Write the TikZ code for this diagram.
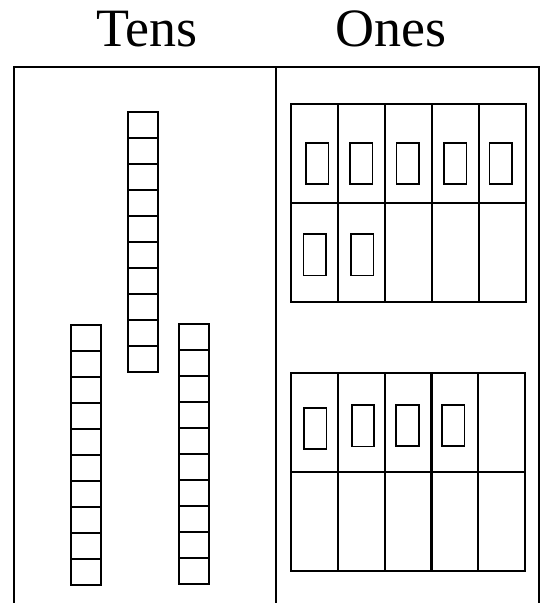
\documentclass[tikz,border=0pt]{standalone}
\usepackage{fontspec}
\setmainfont{Liberation Serif}
\begin{document}
\begin{tikzpicture}[x=1pt, y=-1pt]
      %% Styles for the blocks
      \tikzset
      {
      unit/.style={rectangle, draw, line width=2pt, inner sep=0pt, outer sep=0pt, minimum width=30pt, minimum height=26pt},
      slot/.style = {rectangle, draw, line width=2pt, inner sep=0pt, outer sep=0pt, minimum width=47pt, minimum height=99pt},
      counter/.style = {rectangle, draw, line width=1.8pt, inner sep=0pt, outer sep=0pt, minimum width=22.5pt, minimum height=41.5pt},
      heading/.style = {font=\fontsize{54}{60}\selectfont, inner sep=0pt}
      }
      \useasboundingbox (0,0) rectangle (544,603);
      \clip (0,0) rectangle (544,603);
      %% Headings
      \node[heading, anchor=base] (tens) at (147,46) {Tens};
      \node[heading, anchor=base] (ones) at (391,46) {Ones};
      %% Place value chart
      \coordinate (tl) at (14,67);
      \coordinate (tr) at (539,67);
      \coordinate (tm) at (276,67);
      \draw [line width=2.4pt] (14,620) -- (tl) -- (tr) -- (539,620)
      (tm) -- (276,620);
      %% Middle ten rod
      \node[unit] (m1) at (142.7,125) {};
      \node[unit] (m2) at (142.7,151) {};
      \node[unit] (m3) at (142.7,177) {};
      \node[unit] (m4) at (142.7,203) {};
      \node[unit] (m5) at (142.7,229) {};
      \node[unit] (m6) at (142.7,255) {};
      \node[unit] (m7) at (142.7,281) {};
      \node[unit] (m8) at (142.7,307) {};
      \node[unit] (m9) at (142.7,333) {};
      \node[unit] (m10) at (142.7,359) {};
      %% Left ten rod
      \node[unit] (l1) at (86.3,338) {};
      \node[unit] (l2) at (86.3,364) {};
      \node[unit] (l3) at (86.3,390) {};
      \node[unit] (l4) at (86.3,416) {};
      \node[unit] (l5) at (86.3,442) {};
      \node[unit] (l6) at (86.3,468) {};
      \node[unit] (l7) at (86.3,494) {};
      \node[unit] (l8) at (86.3,520) {};
      \node[unit] (l9) at (86.3,546) {};
      \node[unit] (l10) at (86.3,572) {};
      %% Right ten rod
      \node[unit] (r1) at (193.5,337) {};
      \node[unit] (r2) at (193.5,363) {};
      \node[unit] (r3) at (193.5,389) {};
      \node[unit] (r4) at (193.5,415) {};
      \node[unit] (r5) at (193.5,441) {};
      \node[unit] (r6) at (193.5,467) {};
      \node[unit] (r7) at (193.5,493) {};
      \node[unit] (r8) at (193.5,519) {};
      \node[unit] (r9) at (193.5,545) {};
      \node[unit] (r10) at (193.5,571) {};
      %% Upper ten frame
      \node[slot] (a1) at (314.5,153) {};
      \node[slot] (a2) at (361.5,153) {};
      \node[slot] (a3) at (408.5,153) {};
      \node[slot] (a4) at (455.5,153) {};
      \node[slot] (a5) at (502.5,153) {};
      \node[slot] (a6) at (314.5,252) {};
      \node[slot] (a7) at (361.5,252) {};
      \node[slot] (a8) at (408.5,252) {};
      \node[slot] (a9) at (455.5,252) {};
      \node[slot] (a10) at (502.5,252) {};
      %% Lower ten frame
      \node[slot] (b1) at (314.2,422) {};
      \node[slot] (b2) at (361.1,422) {};
      \node[slot] (b3) at (408,422) {};
      \node[slot] (b4) at (454.9,422) {};
      \node[slot] (b5) at (501.8,422) {};
      \node[slot] (b6) at (314.2,521) {};
      \node[slot] (b7) at (361.1,521) {};
      \node[slot] (b8) at (408,521) {};
      \node[slot] (b9) at (454.9,521) {};
      \node[slot] (b10) at (501.8,521) {};
      %% Counters in upper frame
      \node[counter] (ca1) at (317.3,163.5) {};
      \node[counter] (ca2) at (361.3,163.5) {};
      \node[counter] (ca3) at (407.8,163.5) {};
      \node[counter] (ca4) at (455.3,163.5) {};
      \node[counter] (ca5) at (500.7,163.5) {};
      \node[counter] (ca6) at (314.7,254.7) {};
      \node[counter] (ca7) at (362.3,254.7) {};
      %% Counters in lower frame
      \node[counter] (cb1) at (315.3,428.5) {};
      \node[counter] (cb2) at (363,425.8) {};
      \node[counter] (cb3) at (407.5,425.5) {};
      \node[counter] (cb4) at (453.3,425.5) {};
   \end{tikzpicture}
\end{document}
